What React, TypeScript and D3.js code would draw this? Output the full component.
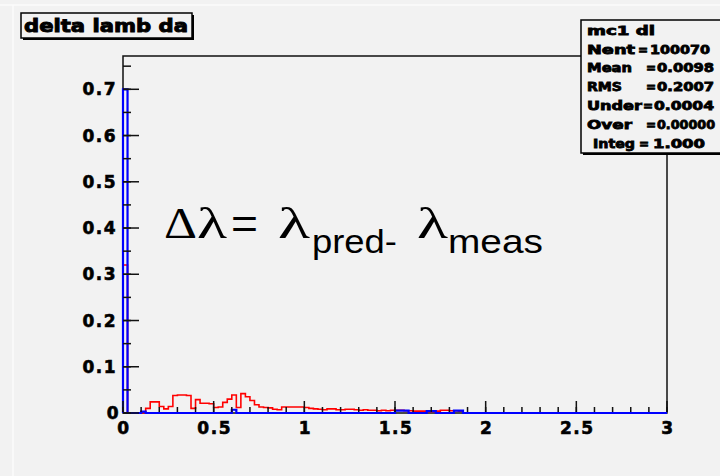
import React from "react";
import * as d3 from "d3";

// histogram of delta lambda, 120 bins over [0, 3]
const binWidth = 0.025;
const xMin = 0;
const xMax = 3;
const redCounts = [
  0.32, 0, 0, 0, 0, 0.01, 0.024, 0.024, 0.014, 0.009,
  0.014, 0.038, 0.039, 0.039, 0.038, 0.01, 0.029, 0.021, 0.021, 0.02,
  0.012, 0.013, 0.023, 0.03, 0.039, 0.012, 0.042, 0.035, 0.027, 0.018,
  0.013, 0.012, 0.011, 0.008, 0.007, 0.013, 0.013, 0.013, 0.013, 0.013,
  0.012, 0.01, 0.009, 0.008, 0.007, 0.009, 0.009, 0.007, 0.007, 0.008,
  0.008, 0.007, 0.006, 0.007, 0.006, 0.006, 0.005, 0.006, 0.005, 0.006,
  0.006, 0.006, 0.005, 0.005, 0.004, 0.004, 0.004, 0.003, 0.003, 0.004,
  0.006, 0.006, 0.005, 0.005, 0.004,
];
const blueCounts = [
  0.7, 0, 0, 0, 0.003, 0, 0, 0, 0, 0,
  0, 0, 0, 0, 0, 0, 0, 0, 0, 0,
  0, 0, 0, 0, 0.007, 0, 0, 0, 0, 0,
  0, 0, 0, 0, 0, 0, 0, 0, 0, 0,
  0, 0, 0, 0, 0, 0, 0, 0, 0, 0,
  0, 0, 0, 0, 0, 0, 0, 0, 0, 0,
  0.005, 0.005, 0.005, 0, 0, 0, 0, 0.004, 0.004, 0,
  0, 0, 0, 0.005, 0.005,
];
const xTickLabels = ["0", "0.5", "1", "1.5", "2", "2.5", "3"];
const yTickLabels = ["0", "0.1", "0.2", "0.3", "0.4", "0.5", "0.6", "0.7"];
const statName = "mc1 dl";
const statLabels = ["Nent", "Mean", "RMS", "Under", "Over", "Integ"];
const statValues = ["100070", "0.0098", "0.2007", "0.0004", "0.00000", "1.000"];

// stat box text layout: label x, label width, "=" x, value x, value width
const statLayout = [
  [587, 48, 638, 650, 60],
  [587, 45, 646, 657, 57],
  [587, 35, 646, 657, 57],
  [587, 55, 643, 654, 60],
  [587, 45, 646, 657, 58],
  [593, 42, 639, 653, 52],
];

const W = 720;
const H = 476;
const bg = "#f2f2f2";

const x = d3.scaleLinear().domain([xMin, xMax]).range([123, 667]);
const y = d3.scaleLinear().domain([0, 0.772]).range([413, 56]);

const stepPath = (counts: number[]) => {
  const nBins = Math.round((xMax - xMin) / binWidth);
  const pts: [number, number][] = [[x(xMin), y(0)]];
  for (let i = 0; i < nBins; i++) {
    const v = counts[i] || 0;
    pts.push([x(xMin + i * binWidth), y(v)]);
    pts.push([x(xMin + (i + 1) * binWidth), y(v)]);
  }
  pts.push([x(xMax), y(0)]);
  return d3.line()(pts) || "";
};

const boldFont = "'DejaVu Sans', 'Liberation Sans', sans-serif";

export default function App() {
  const xMajor = d3.range(0, 3.0001, 0.5);
  const xMinor = d3.range(0, 3.0001, 0.1);
  const yMajor = d3.range(0, 0.7001, 0.1);
  const yMinor = d3.range(0, 0.77, 0.05);

  return (
    <svg width={W} height={H} style={{ position: "absolute", left: 0, top: 0, display: "block" }}
      viewBox={`0 0 ${W} ${H}`}>
      <rect x={0} y={0} width={W} height={H} fill={bg} />
      <line x1={0} x2={W} y1={5} y2={5} stroke="#fbfbfb" strokeWidth={1.5} />
      <line x1={13} x2={13} y1={5} y2={H} stroke="#fbfbfb" strokeWidth={1.5} />

      {/* frame */}
      <rect x={x(0)} y={y(0.772)} width={x(3) - x(0)} height={y(0) - y(0.772)}
        fill="none" stroke="#111" strokeWidth={1.5} />

      {/* histograms */}
      <path d={stepPath(redCounts)} fill="none" stroke="#ff0000" strokeWidth={1.6} />
      <path d={stepPath(blueCounts)} fill="none" stroke="#0000ff" strokeWidth={2.2} />

      {/* x ticks */}
      {xMinor.map((t, i) => (
        <line key={"xm" + i} x1={x(t)} x2={x(t)} y1={y(0) - 1} y2={y(0) - 6} stroke="#111" strokeWidth={1.5} />
      ))}
      {xMajor.map((t, i) => (
        <line key={"xM" + i} x1={x(t)} x2={x(t)} y1={y(0) - 1} y2={y(0) - 12} stroke="#111" strokeWidth={1.5} />
      ))}
      {xMajor.map((t, i) => (
        <text key={"xl" + i} x={x(t) + 1} y={434} textAnchor="middle" fontFamily={boldFont}
          fontWeight="bold" fontSize={17} letterSpacing={1.5} stroke="#000" strokeWidth={0.6} fill="#000">
          {xTickLabels[i]}
        </text>
      ))}

      {/* y ticks */}
      {yMinor.map((t, i) => (
        <line key={"ym" + i} x1={x(0)} x2={x(0) + 8} y1={y(t)} y2={y(t)} stroke="#111" strokeWidth={1.5} />
      ))}
      {yMajor.map((t, i) => (
        <line key={"yM" + i} x1={x(0)} x2={x(0) + 16} y1={y(t)} y2={y(t)} stroke="#111" strokeWidth={1.5} />
      ))}
      {yMajor.map((t, i) => (
        <text key={"yl" + i} x={i === 0 ? 120 : 117} y={y(t) + 6} textAnchor="end" fontFamily={boldFont}
          fontWeight="bold" fontSize={17} letterSpacing={1.5} stroke="#000" strokeWidth={0.6} fill="#000">
          {yTickLabels[i]}
        </text>
      ))}

      {/* formula */}
      <g fill="#000">
        <text x={164} y={238} fontFamily="'Liberation Serif', serif" fontSize={44}
          textLength={33} lengthAdjust="spacingAndGlyphs">Δ</text>
        <text x={197} y={238} fontFamily="'Liberation Serif', serif" fontSize={44}
          textLength={30} lengthAdjust="spacingAndGlyphs">λ</text>
        <text x={231} y={238} fontFamily="'Liberation Sans', Arial, sans-serif" fontSize={42}
          textLength={27} lengthAdjust="spacingAndGlyphs">=</text>
        <text x={278} y={238} fontFamily="'Liberation Serif', serif" fontSize={44}
          textLength={32} lengthAdjust="spacingAndGlyphs">λ</text>
        <text x={312} y={253} fontFamily="'Liberation Sans', Arial, sans-serif" fontSize={33}
          textLength={85} lengthAdjust="spacingAndGlyphs">pred-</text>
        <text x={417} y={238} fontFamily="'Liberation Serif', serif" fontSize={44}
          textLength={31} lengthAdjust="spacingAndGlyphs">λ</text>
        <text x={448} y={253} fontFamily="'Liberation Sans', Arial, sans-serif" fontSize={33}
          textLength={95} lengthAdjust="spacingAndGlyphs">meas</text>
      </g>

      {/* title box */}
      <rect x={23} y={15} width={171} height={25} fill="#000" />
      <rect x={21} y={13} width={171} height={25} fill={bg} stroke="#000" strokeWidth={1.5} />
      <text x={24} y={32} fontFamily={boldFont} fontWeight="bold" fontSize={17} stroke="#000"
        strokeWidth={0.9} textLength={164} lengthAdjust="spacingAndGlyphs">delta lamb da</text>

      {/* stats box */}
      <rect x={583} y={22} width={150} height={133} fill="#000" />
      <rect x={581} y={20} width={150} height={133} fill={bg} stroke="#000" strokeWidth={1.5} />
      <g fontFamily={boldFont} fontWeight="bold" fontSize={12} stroke="#000" strokeWidth={0.8} fill="#000">
        <text x={587} y={35} textLength={68} lengthAdjust="spacingAndGlyphs">{statName}</text>
        {statLabels.map((s, i) => {
          const [lx, lw, ex, vx, vw] = statLayout[i];
          const ty = 53.5 + i * 18.8;
          return (
            <g key={"s" + i}>
              <text x={lx} y={ty} textLength={lw} lengthAdjust="spacingAndGlyphs">{s}</text>
              <text x={ex} y={ty}>=</text>
              <text x={vx} y={ty} textLength={vw} lengthAdjust="spacingAndGlyphs">{statValues[i]}</text>
            </g>
          );
        })}
      </g>
    </svg>
  );
}
